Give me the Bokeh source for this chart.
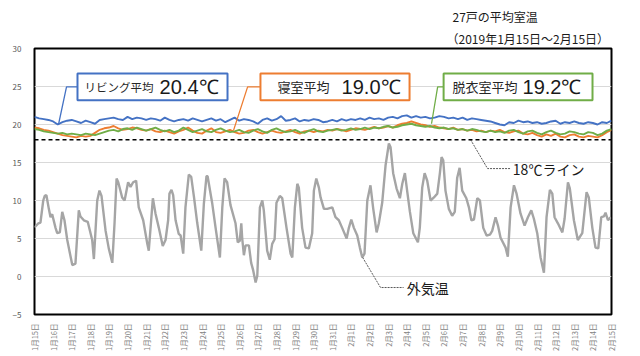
import math
import numpy as np
from bokeh.plotting import figure
from bokeh.models import Range1d, FixedTicker, Span, Label, BoxAnnotation, Title
from bokeh.embed import file_html
from bokeh.resources import INLINE

# ---------------- data ----------------
x_labels = ["1月15日", "1月16日", "1月17日", "1月18日", "1月19日", "1月20日", "1月21日",
            "1月22日", "1月23日", "1月24日", "1月25日", "1月26日", "1月27日", "1月28日",
            "1月29日", "1月30日", "1月31日", "2月1日", "2月2日", "2月3日", "2月4日",
            "2月5日", "2月6日", "2月7日", "2月8日", "2月9日", "2月10日", "2月11日",
            "2月12日", "2月13日", "2月14日", "2月15日"]
y_ticks = [-5, 0, 5, 10, 15, 20, 25, 30]

# outdoor temperature (days since 1/15 0:00, degC)
out_day = [0.00, 0.21, 0.32, 0.47, 0.55, 0.64, 0.77, 0.86, 0.95, 1.13,
           1.22, 1.36, 1.49, 1.61, 1.76, 2.03, 2.20, 2.38, 2.47, 2.65,
           2.86, 3.10, 3.19, 3.37, 3.49, 3.60, 3.82, 3.99, 4.18, 4.30,
           4.41, 4.50, 4.71, 4.84, 5.03, 5.16, 5.30, 5.46, 5.60, 5.84,
           6.06, 6.14, 6.36, 6.50, 6.68, 6.89, 7.04, 7.18, 7.25, 7.36,
           7.45, 7.58, 7.75, 7.85, 7.99, 8.11, 8.29, 8.42, 8.56, 8.74,
           8.96, 9.10, 9.24, 9.30, 9.55, 9.73, 9.96, 10.09, 10.21, 10.35,
           10.53, 10.80, 10.92, 11.03, 11.11, 11.16, 11.25, 11.34, 11.52, 11.64,
           11.75, 11.88, 11.97, 12.11, 12.24, 12.32, 12.50, 12.64, 12.77, 12.90,
           13.00, 13.18, 13.31, 13.54, 13.76, 13.85, 13.99, 14.12, 14.20, 14.38,
           14.56, 14.74, 14.92, 15.01, 15.14, 15.28, 15.37,
           15.55, 15.73, 16.00, 16.17, 16.35, 16.53, 16.77, 16.89, 17.02, 17.16,
           17.34, 17.48, 17.61, 17.73, 17.88, 18.05, 18.20, 18.38, 18.50, 18.68,
           18.86, 19.04, 19.13, 19.27, 19.45, 19.63, 19.76, 19.90, 20.03, 20.17,
           20.35, 20.60, 20.70, 20.83, 20.96, 21.10, 21.28, 21.46, 21.64, 21.78,
           21.87, 21.96, 22.08, 22.26, 22.44, 22.58, 22.71, 22.84, 22.98, 23.20,
           23.34, 23.47, 23.61, 23.79, 23.93, 24.11, 24.29, 24.47, 24.59, 24.77,
           24.90, 25.04, 25.31, 25.43, 25.58, 25.76, 25.90, 26.11, 26.33, 26.51,
           26.69, 26.83, 27.01, 27.19, 27.37, 27.51, 27.69, 27.82, 27.94, 28.12,
           28.36, 28.48, 28.66, 28.76, 28.98, 29.19, 29.43, 29.66, 29.78, 29.97,
           30.14, 30.29, 30.45, 30.59, 30.68, 30.81, 30.95]
out_val = [6.45, 7.0, 7.1, 10.0, 10.6, 10.7, 8.9, 7.8, 8.2, 6.4,
           5.7, 5.8, 8.5, 7.4, 4.8, 1.5, 1.7, 8.7, 7.9, 7.4,
           7.2, 4.8, 2.3, 10.0, 11.3, 10.6, 6.0, 3.7, 1.8, 7.0,
           12.9, 12.4, 10.4, 10.0, 12.4, 11.8, 12.4, 12.6, 9.1, 7.4,
           4.3, 3.4, 10.3, 8.3, 6.4, 4.0, 4.8, 7.4, 10.9, 11.4,
           10.7, 7.4, 5.6, 5.4, 3.0, 9.1, 13.4, 13.1, 10.6, 7.1,
           3.4, 9.6, 13.2, 13.2, 9.6, 6.4, 2.5, 9.1, 12.9, 12.4,
           9.4, 7.0, 4.5, 4.7, 7.0, 5.0, 2.8, 4.1, 4.1, 1.8,
           0.8, -0.8, 0.1, 9.1, 10.0, 8.7, 3.4, 2.2, 4.3, 4.9,
           9.7, 10.6, 10.3, 6.4, 3.0, 2.5, 9.1, 12.2, 11.7, 6.4,
           3.8, 3.7, 5.7, 11.3, 12.9, 11.7, 10.4,
           8.9, 8.9, 9.1, 7.8, 7.4, 6.4, 5.0, 6.4, 7.5, 6.4,
           5.4, 3.8, 2.5, 3.0, 10.0, 12.0, 8.9, 5.8, 7.0, 9.7,
           14.6, 17.5, 17.0, 13.6, 11.6, 10.3, 12.2, 13.6, 11.1, 8.5,
           5.7, 4.5, 6.4, 11.7, 13.6, 12.6, 10.0, 10.4, 10.9, 13.6,
           15.7, 15.3, 11.3, 8.9, 8.0, 8.5, 13.0, 14.3, 11.3, 10.3,
           9.1, 7.4, 7.5, 10.3, 10.0, 6.4, 5.4, 5.5, 6.0, 7.8,
           6.7, 5.1, 3.8, 2.6, 9.1, 12.0, 10.9, 8.3, 6.7, 7.8,
           8.7, 7.6, 5.7, 2.5, 0.5, 7.8, 11.4, 10.9, 7.8, 7.0,
           5.8, 7.6, 12.4, 11.6, 7.4, 4.8, 5.7, 11.1, 10.4, 6.4,
           3.8, 3.7, 7.8, 7.9, 8.4, 7.4, 7.8]

# indoor series, read every 6 hours from 1/15 0:00 to 2/15 0:00
living = [21.0, 20.8, 20.7, 20.6, 20.4, 20.0, 20.3, 20.5,
          20.6, 20.4, 20.2, 20.5, 20.3, 20.1, 20.6, 20.7,
          20.8, 20.9, 20.7, 20.6, 21.0, 20.7, 20.9, 20.8,
          20.6, 20.8, 20.7, 20.5, 20.9, 20.6, 20.4, 20.6,
          20.7, 20.5, 20.8, 20.6, 20.4, 20.6, 20.8, 20.5,
          20.7, 20.3, 20.6, 20.9, 20.5, 20.7, 20.6, 20.4,
          20.1, 20.6, 20.8, 20.5, 20.7, 21.1, 20.5, 20.6,
          20.8, 20.4, 20.6, 20.5, 20.7, 20.6, 20.3, 20.4,
          20.6, 20.4, 20.7, 20.5, 20.7, 20.6, 20.8, 20.6,
          20.9, 20.7, 20.8, 20.6, 20.9, 21.0, 20.8, 21.1,
          21.2, 20.9, 21.1, 20.9, 21.0, 20.8, 20.9, 21.1,
          21.0, 20.8, 20.9, 20.7, 20.9, 20.6, 20.8, 20.7,
          20.6, 20.5, 20.4, 20.2, 20.0, 19.9, 20.3, 20.2,
          20.5, 20.3, 20.4, 20.2, 20.3, 20.1, 20.2, 20.4,
          20.5, 20.1, 20.3, 20.2, 20.4, 20.2, 20.1, 20.3,
          20.2, 20.0, 20.3, 20.2, 20.5]
bedroom = [19.6, 19.5, 19.3, 19.2, 19.0, 18.8, 18.6, 18.5,
           18.4, 18.3, 18.5, 18.4, 18.5, 18.9, 19.3, 19.5,
           19.6, 19.8, 19.5, 19.3, 19.4, 19.6, 19.5, 19.3,
           19.2, 19.4, 19.1, 19.0, 19.2, 19.0, 18.8, 19.1,
           19.3, 19.6, 19.2, 18.9, 18.8, 19.2, 19.5, 19.0,
           18.9, 19.1, 19.3, 19.0, 18.8, 18.9, 19.2, 19.3,
           19.0, 18.8, 19.0, 19.2, 19.0, 18.9, 19.1, 19.3,
           19.0, 18.8, 19.1, 19.2, 19.0, 19.2, 19.1, 19.3,
           19.2, 19.4, 19.3, 19.1, 19.3, 19.5, 19.4, 19.3,
           19.5, 19.7, 19.5, 19.6, 19.8, 19.6, 19.9, 20.1,
           20.2, 20.4, 20.2, 20.0, 19.9, 19.7, 19.8, 19.6,
           19.5, 19.4, 19.6, 19.3, 19.4, 19.2, 19.3, 19.1,
           19.2, 19.0, 19.2, 19.1, 19.3, 19.0, 18.9, 19.1,
           19.2, 18.8, 18.7, 18.9, 18.6, 18.4, 18.7, 18.5,
           18.8, 18.4, 18.3, 18.6, 18.7, 18.4, 18.3, 18.5,
           18.4, 18.3, 18.6, 19.0, 19.3]
dressing = [19.4, 19.3, 19.1, 19.0, 18.9, 18.8, 18.9, 18.7,
            18.8, 18.7, 18.6, 18.8, 18.7, 18.6, 18.8, 19.0,
            19.2, 19.3, 19.1, 19.4, 19.5, 19.3, 19.6, 19.4,
            19.2, 19.4, 19.6, 19.3, 19.1, 19.3, 19.0, 19.2,
            19.6, 19.3, 19.0, 19.2, 19.4, 19.1, 19.0, 19.3,
            19.5, 19.2, 19.0, 19.1, 19.3, 19.0, 18.9, 19.2,
            19.4, 19.1, 18.9, 19.3, 19.5, 19.2, 19.0, 19.1,
            19.3, 19.0, 18.9, 19.2, 19.4, 19.1, 19.0, 19.2,
            19.3, 19.4, 19.2, 19.3, 19.5, 19.3, 19.4, 19.6,
            19.4, 19.6, 19.5, 19.7, 19.8, 19.6, 19.7, 19.9,
            20.0, 20.1, 19.9, 19.8, 19.7, 19.8, 19.6, 19.5,
            19.6, 19.4, 19.5, 19.3, 19.4, 19.2, 19.4, 19.3,
            19.1, 19.0, 19.2, 19.0, 19.1, 18.9, 19.2, 19.3,
            19.0, 18.8, 19.1, 19.2, 18.9, 18.7, 19.0, 19.2,
            18.9, 18.7, 18.8, 19.1, 19.0, 18.8, 18.7, 19.0,
            18.9, 18.6, 18.8, 19.2, 19.4]
in_day = list(np.arange(len(living)) * 0.25)

FONT = "Noto Sans CJK JP"
NUMFONT = "Liberation Sans"

# ---------------- figure ----------------
p = figure(width=640, height=356, x_range=Range1d(0, 31), y_range=Range1d(-5, 30),
           output_backend="svg", toolbar_location=None,
           min_border_left=34, min_border_right=29, min_border_top=48, min_border_bottom=42)
p.background_fill_color = "white"
p.border_fill_color = "white"
p.outline_line_color = "black"
p.outline_line_width = 2

p.xgrid.visible = False
p.ygrid.grid_line_color = "#D9D9D9"
p.ygrid.grid_line_width = 1

for ax in (p.xaxis, p.yaxis):
    ax.axis_line_color = None
    ax.major_tick_line_color = None
    ax.minor_tick_line_color = None
    ax.major_label_text_font = FONT

p.yaxis.ticker = FixedTicker(ticks=y_ticks)
p.yaxis.major_label_text_font_size = "8px"
p.yaxis.major_label_text_color = "#595959"
p.yaxis.major_label_standoff = 7

p.xaxis.ticker = FixedTicker(ticks=list(range(len(x_labels))))
p.xaxis.major_label_overrides = {i: s for i, s in enumerate(x_labels)}
p.xaxis.major_label_orientation = math.pi / 2
p.xaxis.major_label_text_font_size = "7.5px"
p.xaxis.major_label_text_color = "#7F7F7F"
p.xaxis.major_label_standoff = 3

# title lines (top right), nearest to the frame first
p.add_layout(Title(text="（2019年1月15日～2月15日）", text_font=FONT, text_font_size="12px",
                   text_font_style="normal", text_color="#1A1A1A", align="left",
                   offset=412, standoff=3), "above")
p.add_layout(Title(text="27戸の平均室温", text_font=FONT, text_font_size="12px",
                   text_font_style="normal", text_color="#1A1A1A", align="left",
                   offset=418, standoff=4), "above")

# series
p.line(out_day, out_val, line_color="#A5A5A5", line_width=2.4)
p.line(in_day, living, line_color="#4472C4", line_width=1.9)
p.line(in_day, bedroom, line_color="#ED7D31", line_width=1.9)
p.line(in_day, dressing, line_color="#70AD47", line_width=1.9)

p.add_layout(Span(location=18, dimension="width", line_color="black",
                  line_dash="4 3", line_width=1.5))

# callouts
boxes = [
    (2.31, 10.37, "#4472C4", "リビング平均", 2.69, "11.5px", "20.4℃", 6.72,
     [2.31, 1.72, 1.29], [24.95, 24.95, 20.0]),
    (12.14, 20.15, "#ED7D31", "寝室平均", 13.06, "13px", "19.0℃", 16.5,
     [12.14, 11.45, 10.69], [24.95, 24.95, 19.2]),
    (21.98, 29.98, "#70AD47", "脱衣室平均", 22.46, "13px", "19.2℃", 26.22,
     [21.98, 21.66, 21.33], [24.95, 24.95, 20.1]),
]
for (l, r, col, t1, x1, fs1, t2, x2, lx, ly) in boxes:
    p.line(lx, ly, line_color=col, line_width=1.3)
    p.add_layout(BoxAnnotation(left=l, right=r, bottom=23.2, top=26.7,
                               fill_color="white", fill_alpha=1.0,
                               line_color=col, line_width=2, line_alpha=1.0))
    p.add_layout(Label(x=x1, y=24.95, text=t1, text_font=FONT, text_font_size=fs1,
                       text_baseline="middle", text_color="#262626"))
    p.add_layout(Label(x=x2, y=24.95, text=t2, text_font=NUMFONT, text_font_size="20px",
                       text_baseline="middle", text_color="#1A1A1A"))

# 18C line label
p.line([23.43, 24.34, 25.58], [18.0, 14.2, 14.2], line_color="#595959",
       line_width=1, line_dash="2 1")
p.add_layout(Label(x=25.7, y=14.2, text="18℃ライン", text_font=FONT, text_font_size="14px",
                   text_baseline="middle", text_color="#1A1A1A"))

# outdoor label
p.line([17.63, 18.59, 19.83], [2.5, -1.45, -1.45], line_color="#595959",
       line_width=1, line_dash="2 1")
p.add_layout(Label(x=20.0, y=-1.45, text="外気温", text_font=FONT, text_font_size="14px",
                   text_baseline="middle", text_color="#1A1A1A"))

open("out.html", "w").write(file_html(p, INLINE))
